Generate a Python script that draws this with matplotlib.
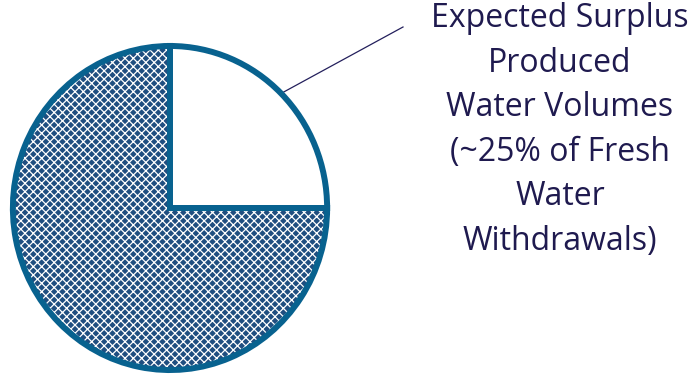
import matplotlib
matplotlib.use('Agg')
import matplotlib.pyplot as plt
import numpy as np

plt.rcParams['hatch.linewidth'] = 0.9

# pie shares (%)
shares = [25, 75]
slice_labels = ['Expected Surplus Produced Water Volumes', 'Fresh Water Withdrawals']
note = 'Expected Surplus\nProduced\nWater Volumes\n(~25% of Fresh\nWater\nWithdrawals)'

W, H = 692, 375
fig = plt.figure(figsize=(W / 100, H / 100), dpi=100)

# main axes in pixel units, for the note and the leader line
ax = fig.add_axes([0, 0, 1, 1])
ax.set_xlim(0, W)
ax.set_ylim(0, H)
ax.axis('off')

# pie axes: box of the pie (slightly taller than wide, as in the original)
pax = fig.add_axes([10 / W, 2 / H, 320 / W, 330 / H])
r = 0.982

fill, _ = pax.pie(shares, radius=r, startangle=90, counterclock=False,
                  colors=['white', '#1f4e80'],
                  wedgeprops=dict(edgecolor='white', linewidth=0))
fill[1].set_hatch('xxxx')

edges, _ = pax.pie(shares, radius=r, startangle=90, counterclock=False,
                   wedgeprops=dict(edgecolor='#08628f', linewidth=4.3, fill=False))
pax.set_xlim(-1, 1)
pax.set_ylim(-1, 1)
pax.set_aspect('auto')
pax.axis('off')

# leader line from the rim of the white slice to the note
w = edges[0]
mid = np.deg2rad((w.theta1 + w.theta2) / 2)
disp = pax.transData.transform((r * np.cos(mid), r * np.sin(mid)))
px, py = ax.transData.inverted().transform(disp)
ax.plot([px, 403], [py, H - 27], color='#231f5c', linewidth=0.9)

ax.text(560, H - 130, note, ha='center', va='center', fontsize=23,
        family='Open Sans', color='#1f1a4f', linespacing=1.46)

fig.savefig('out.png', dpi=100)
